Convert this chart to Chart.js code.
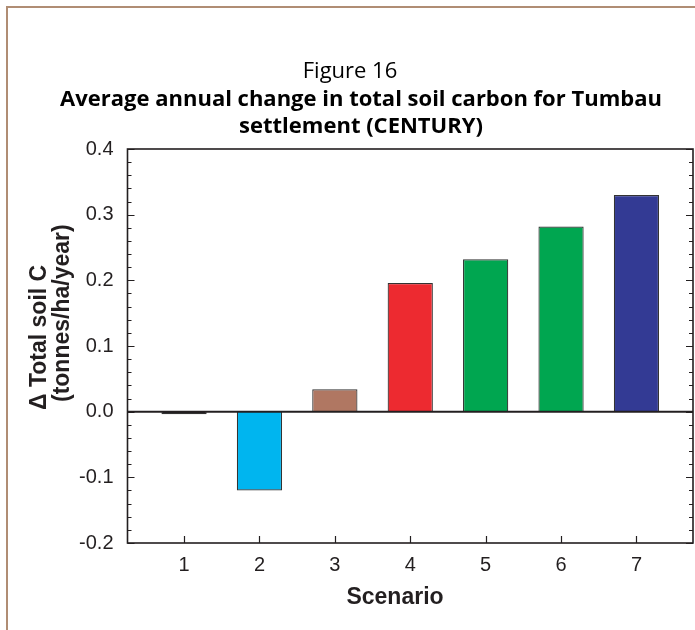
<!DOCTYPE html>
<html>
<head>
<meta charset="utf-8">
<script src="https://cdn.jsdelivr.net/npm/chart.js@4/dist/chart.umd.min.js"></script>
<style>
  html, body { margin: 0; padding: 0; background: #fff; }
</style>
</head>
<body>
<canvas id="soilChart" width="695" height="630"></canvas>
<script>
const scenarios = [1, 2, 3, 4, 5, 6, 7];
const soilCarbonChange = [-0.004, -0.120, 0.034, 0.196, 0.232, 0.282, 0.330];
const barColors = ['#231f20', '#00b5ef', '#b07762', '#ed2a30', '#00a650', '#00a650', '#333a94'];
const yTicks = [-0.2, -0.1, 0.0, 0.1, 0.2, 0.3, 0.4];

const titleLines = ['Figure 16', 'Average annual change in total soil carbon for Tumbau', 'settlement (CENTURY)'];
const yTitleLines = ['\u0394 Total soil C', '(tonnes/ha/year)'];
const xTitle = 'Scenario';

const ink = '#231f20';
const axisFont = '"Liberation Sans", Arial, sans-serif';
const titleFont = '"Open Sans", "Noto Sans", sans-serif';

// frame, titles, inward ticks and the plot box
const decorations = {
    id: 'decorations',
    afterDatasetsDraw(chart) {
        const ctx = chart.ctx;
        const area = chart.chartArea;
        const x = chart.scales.x;
        const y = chart.scales.y;
        ctx.save();

        // zero line
        ctx.strokeStyle = ink;
        ctx.lineWidth = 2;
        ctx.beginPath();
        ctx.moveTo(area.left, y.getPixelForValue(0));
        ctx.lineTo(area.right, y.getPixelForValue(0));
        ctx.stroke();

        // plot box
        ctx.lineWidth = 1.6;
        ctx.strokeRect(area.left, area.top, area.right - area.left, area.bottom - area.top);

        // y ticks, left and right, pointing in
        ctx.lineWidth = 1.2;
        ctx.beginPath();
        for (let i = 0; i <= 30; i++) {
            const v = -0.2 + i * 0.02;
            const py = Math.round(y.getPixelForValue(v)) + 0.5;
            const len = i % 5 === 0 ? 7 : 4;
            ctx.moveTo(area.left, py);
            ctx.lineTo(area.left + len, py);
            ctx.moveTo(area.right, py);
            ctx.lineTo(area.right - len, py);
        }
        // x ticks on the bottom
        scenarios.forEach(s => {
            const px = Math.round(x.getPixelForValue(s)) + 0.5;
            ctx.moveTo(px, area.bottom);
            ctx.lineTo(px, area.bottom - 7);
        });
        ctx.stroke();
        ctx.restore();
    },
    afterDraw(chart) {
        const ctx = chart.ctx;
        ctx.save();

        // page frame
        ctx.strokeStyle = '#b08d74';
        ctx.lineWidth = 2;
        ctx.beginPath();
        ctx.moveTo(7, 630);
        ctx.lineTo(7, 7);
        ctx.lineTo(695, 7);
        ctx.stroke();

        // titles
        ctx.fillStyle = '#000';
        ctx.textAlign = 'center';
        ctx.textBaseline = 'middle';
        ctx.font = '22px ' + titleFont;
        ctx.fillText(titleLines[0], 350, 72);
        ctx.font = 'bold 22px ' + titleFont;
        ctx.fillText(titleLines[1], 361, 100);
        ctx.fillText(titleLines[2], 361, 127);

        // axis titles
        ctx.fillStyle = ink;
        ctx.font = 'bold 23px ' + axisFont;
        ctx.fillText(xTitle, 395, 598);

        ctx.save();
        ctx.rotate(-Math.PI / 2);
        ctx.textAlign = 'left';
        ctx.fillText(yTitleLines[0], -410, 40);
        ctx.fillText(yTitleLines[1], -402, 63);
        ctx.restore();

        ctx.restore();
    }
};

new Chart(document.getElementById('soilChart'), {
    type: 'bar',
    data: {
        datasets: [{
            data: scenarios.map((s, i) => ({ x: s, y: soilCarbonChange[i] })),
            backgroundColor: barColors,
            borderColor: '#333333',
            borderWidth: 1.2,
            barPercentage: 0.6,
            categoryPercentage: 1,
        }]
    },
    options: {
        responsive: false,
        animation: false,
        layout: { padding: { top: 149, right: 2, left: 0, bottom: 0 } },
        plugins: {
            legend: { display: false },
            tooltip: { enabled: false },
        },
        scales: {
            x: {
                type: 'linear',
                min: 0.25,
                max: 7.75,
                offset: false,
                grid: { display: false, offset: false },
                border: { display: false },
                afterBuildTicks: (scale) => { scale.ticks = scenarios.map(v => ({ value: v })); },
                afterFit: (scale) => { scale.height = 87; },
                ticks: {
                    color: ink,
                    font: { family: axisFont, size: 20 },
                    padding: 2,
                    maxRotation: 0,
                    callback: (v) => String(v),
                },
            },
            y: {
                min: -0.2,
                max: 0.4,
                grid: { display: false },
                border: { display: false },
                afterBuildTicks: (scale) => { scale.ticks = yTicks.map(v => ({ value: v })); },
                afterFit: (scale) => { scale.width = 127.5; },
                ticks: {
                    color: ink,
                    font: { family: axisFont, size: 20 },
                    padding: 6,
                    callback: (v) => v.toFixed(1),
                },
            },
        },
    },
    plugins: [decorations],
});
</script>
</body>
</html>
